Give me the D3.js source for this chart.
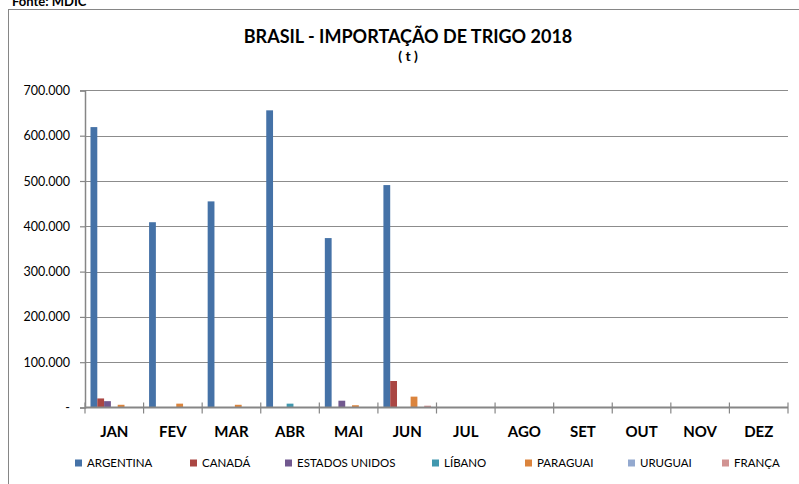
<!DOCTYPE html>
<html>
<head>
<meta charset="utf-8">
<script src="https://cdn.jsdelivr.net/npm/d3@7"></script>
<style>
  html, body { margin: 0; padding: 0; background: #fff; }
  svg { display: block; font-family: Lato, "Open Sans", sans-serif; }
</style>
</head>
<body>
<svg id="chart" width="799" height="484"></svg>
<script>
// ---- data ----
const months = ["JAN","FEV","MAR","ABR","MAI","JUN","JUL","AGO","SET","OUT","NOV","DEZ"];
const seriesNames = ["ARGENTINA","CANADÁ","ESTADOS UNIDOS","LÍBANO","PARAGUAI","URUGUAI","FRANÇA"];
const argentina = [619000, 409000, 455000, 656000, 374000, 491000, 0, 0, 0, 0, 0, 0];
const canada    = [20000, 0, 0, 0, 0, 58500, 0, 0, 0, 0, 0, 0];
const estadosUnidos = [14000, 0, 0, 0, 15000, 0, 0, 0, 0, 0, 0, 0];
const libano    = [0, 0, 0, 8500, 0, 0, 0, 0, 0, 0, 0, 0];
const paraguai  = [6000, 8500, 6000, 0, 5000, 24000, 0, 0, 0, 0, 0, 0];
const uruguai   = [0, 0, 0, 0, 0, 0, 0, 0, 0, 0, 0, 0];
const franca    = [0, 0, 0, 0, 0, 4000, 0, 0, 0, 0, 0, 0];
const yTicks = [0, 100000, 200000, 300000, 400000, 500000, 600000, 700000];
const colors = ["#4572A7","#AA4643","#71588F","#4198AF","#DB843D","#93A9CF","#D19392"];

const seriesValues = [argentina, canada, estadosUnidos, libano, paraguai, uruguai, franca];

const svg = d3.select("#chart");

// source note and chart frame
svg.append("text").attr("x", 12).attr("y", 6).attr("font-weight", "bold")
  .attr("font-size", 13).attr("fill", "#000").text("Fonte: MDIC");
svg.append("rect").attr("x", 8.5).attr("y", 9.5).attr("width", 820).attr("height", 500)
  .attr("fill", "none").attr("stroke", "#868686").attr("stroke-width", 1);

// title
svg.append("text").attr("x", 408).attr("y", 43).attr("text-anchor", "middle")
  .attr("font-weight", "bold").attr("font-size", 18).attr("fill", "#000")
  .text("BRASIL - IMPORTAÇÃO DE TRIGO 2018");
svg.append("text").attr("x", 408).attr("y", 61).attr("text-anchor", "middle")
  .attr("font-weight", "bold").attr("font-size", 14).attr("fill", "#000")
  .text("( t )");

// scales
const x0 = 85, x1 = 788, yBase = 407.5, yTop = 90.4;
const x = d3.scaleBand().domain(months).range([x0, x1]).padding(0);
const groupW = 47.6;
const off = (x.bandwidth() - groupW) / 2;
const xs = d3.scaleBand().domain(seriesNames).range([off, off + groupW]).padding(0);
const y = d3.scaleLinear().domain([0, 700000]).range([yBase, yTop]);

// gridlines
svg.append("g").selectAll("line").data(yTicks.filter(d => d > 0)).join("line")
  .attr("x1", x0).attr("x2", x1)
  .attr("y1", d => Math.round(y(d)) + 0.5).attr("y2", d => Math.round(y(d)) + 0.5)
  .attr("stroke", "#8c8c8c").attr("stroke-width", 1);

// bars
const barData = [];
seriesValues.forEach((vals, si) => {
  vals.forEach((v, mi) => {
    if (v > 0) barData.push({ s: seriesNames[si], m: months[mi], v, c: colors[si] });
  });
});
svg.append("g").selectAll("rect").data(barData).join("rect")
  .attr("x", d => x(d.m) + xs(d.s))
  .attr("width", xs.bandwidth())
  .attr("y", d => y(d.v))
  .attr("height", d => yBase - y(d.v))
  .attr("fill", d => d.c);

// y axis
const fmt = v => v === 0 ? "-" : d3.format(",")(v).replace(/,/g, ".");
const yAxis = d3.axisLeft(y).tickValues(yTicks).tickSize(5).tickFormat(fmt);
const gy = svg.append("g").attr("transform", `translate(${x0},0)`).call(yAxis);
gy.select(".domain").attr("stroke", "#868686").attr("stroke-width", 1.5);
gy.selectAll(".tick line").attr("stroke", "#868686").attr("stroke-width", 1.2);
gy.selectAll(".tick text").attr("font-size", 12.5).attr("fill", "#000")
  .attr("font-family", "Lato, sans-serif").attr("x", -15);

// x axis (cross tick marks at band edges)
svg.append("line").attr("x1", x0).attr("x2", x1).attr("y1", yBase).attr("y2", yBase)
  .attr("stroke", "#868686").attr("stroke-width", 2);
const edges = months.map(m => x(m)).concat([x1]);
svg.append("g").selectAll("line").data(edges).join("line")
  .attr("x1", d => d).attr("x2", d => d)
  .attr("y1", yBase - 5).attr("y2", yBase + 6)
  .attr("stroke", "#868686").attr("stroke-width", 1.2);
svg.append("g").selectAll("text").data(months).join("text")
  .attr("x", d => x(d) + x.bandwidth() / 2).attr("y", 437)
  .attr("text-anchor", "middle").attr("font-weight", "bold").attr("font-size", 15)
  .attr("fill", "#000").text(d => d);

// legend
const legendX = [75, 190, 285, 432, 525, 628, 722];
const lg = svg.append("g").selectAll("g").data(seriesNames).join("g")
  .attr("transform", (d, i) => `translate(${legendX[i]},463)`);
lg.append("rect").attr("x", 0).attr("y", -3.5).attr("width", 7).attr("height", 7)
  .attr("fill", (d, i) => colors[i]);
lg.append("text").attr("x", 12).attr("y", 4).attr("font-size", 11.5)
  .attr("fill", "#000").text(d => d);
</script>
</body>
</html>
